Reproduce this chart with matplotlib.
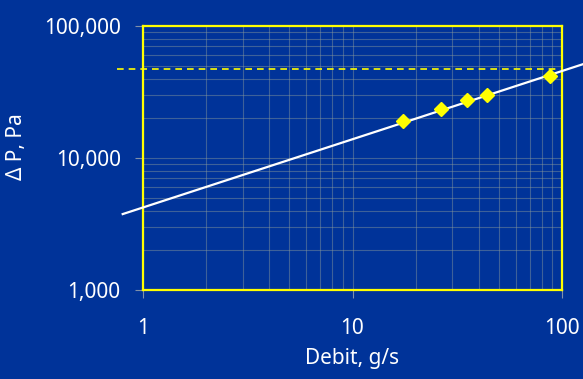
import numpy as np
import matplotlib.pyplot as plt
from matplotlib.ticker import FuncFormatter, LogLocator, NullFormatter

# measured pressure drop vs flow
debit = [17.5, 26.4, 35.1, 43.7, 87.6]
dp = [19100, 23400, 27500, 30000, 42000]

# fitted power-law line (end points)
fit_x = [0.8, 126]
fit_y = [3760, 51400]

# limit level
limit_x = [0.75, 95]
limit_y = [47000, 47000]

bg = '#003399'
plt.rcParams['font.family'] = ['Noto Sans', 'DejaVu Sans']

fig = plt.figure(figsize=(5.83, 3.79), dpi=100, facecolor=bg)
ax = fig.add_axes([0.2453, 0.2348, 0.7187, 0.6966], facecolor=bg)

ax.set_xscale('log')
ax.set_yscale('log')
ax.set_xlim(1, 100)
ax.set_ylim(1000, 100000)

ax.xaxis.set_major_locator(LogLocator(base=10))
ax.xaxis.set_minor_locator(LogLocator(base=10, subs=np.arange(2, 10)))
ax.yaxis.set_major_locator(LogLocator(base=10))
ax.yaxis.set_minor_locator(LogLocator(base=10, subs=np.arange(2, 10)))
ax.xaxis.set_major_formatter(FuncFormatter(lambda v, p: '{:,.0f}'.format(v)))
ax.yaxis.set_major_formatter(FuncFormatter(lambda v, p: '{:,.0f}'.format(v)))
ax.xaxis.set_minor_formatter(NullFormatter())
ax.yaxis.set_minor_formatter(NullFormatter())

ax.grid(True, which='both', color='#8a9a9a', alpha=0.45, lw=0.8)
ax.set_axisbelow(True)

ax.tick_params(which='major', direction='out', length=6, width=0.8, color='#8090a8',
               labelcolor='white', labelsize=15)
ax.tick_params(axis='y', which='major', pad=10)
ax.tick_params(axis='x', which='major', pad=14)
ax.tick_params(which='minor', length=0)

for s in ax.spines.values():
    s.set_color('#ffff00')
    s.set_linewidth(1.6)

ax.plot(limit_x, limit_y, color='#ffff00', lw=1.2, ls=(0, (4, 3)), clip_on=False, zorder=3)
ax.plot(fit_x, fit_y, color='white', lw=1.6, clip_on=False, zorder=4)
ax.plot(debit, dp, ls='none', marker='D', ms=7, color='#ffff00', zorder=5)

fig.text(0.029, 0.612, 'Δ P, Pa', rotation=90, color='white', fontsize=15,
         ha='center', va='center')
fig.text(0.604, 0.0554, 'Debit, g/s', color='white', fontsize=15,
         ha='center', va='center')

fig.savefig('out.png', dpi=100, facecolor=bg)
